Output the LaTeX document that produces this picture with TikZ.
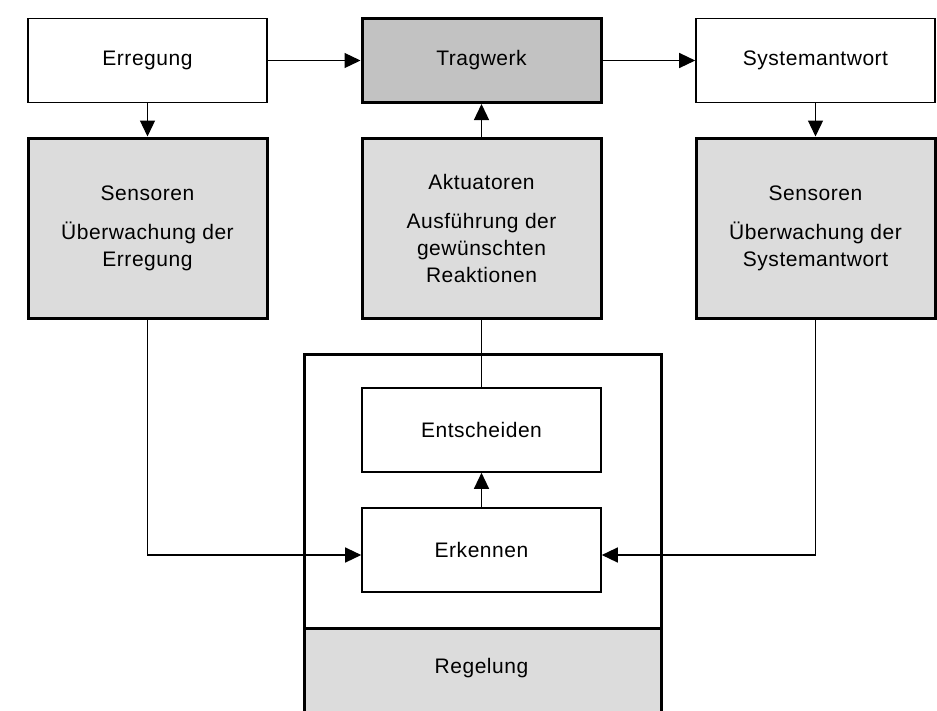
\documentclass[tikz,border=0pt]{standalone}
\usepackage{fontspec}
\setmainfont[LetterSpace=2.5]{Liberation Sans}
\usetikzlibrary{arrows.meta}
\definecolor{lightg}{RGB}{220,220,220}
\definecolor{darkg}{RGB}{194,194,194}
\begin{document}
\begin{tikzpicture}[x=1pt,y=-1pt,
  txt/.style={font=\fontsize{21}{27}\selectfont, align=center, text=black},
  wbox/.style={txt, draw, line width=1.6pt, fill=white, minimum width=239pt, minimum height=84pt, inner sep=0pt},
  gbox/.style={txt, draw, line width=3pt, fill=lightg, minimum width=239pt, minimum height=180pt, inner sep=0pt},
  tbox/.style={txt, draw, line width=3pt, fill=darkg, minimum width=239pt, minimum height=84pt, inner sep=0pt},
  arr/.style={line width=1.3pt, -{Triangle[length=16pt,width=15pt]}},
  plain/.style={line width=1.3pt}
]
\useasboundingbox (0,0) rectangle (937,710);
\fill[white] (0,0) rectangle (937,710);

% Regelung frame
\node[draw, line width=3pt, fill=white, minimum width=357pt, minimum height=362pt, inner sep=0pt, anchor=north west] (frame) at (303,353) {};
\node[txt, draw, line width=3pt, fill=lightg, minimum width=357pt, minimum height=90pt, inner sep=0pt, anchor=north west] (regel) at (303,627) {};
\node[txt] (regeltxt) at (481.5,668) {Regelung};

% top row
\node[wbox] (erreg) at (147.5,60.5) {Erregung};
\node[tbox] (trag) at (481.5,60.5) {Tragwerk};
\node[wbox] (sysant) at (815.5,60.5) {Systemantwort};

% second row
\node[gbox] (sensL) at (147.5,228) {Sensoren\\[12pt]Überwachung der\\Erregung};
\node[gbox] (akt) at (481.5,228) {Aktuatoren\\[12pt]Ausführung der\\gewünschten\\Reaktionen};
\node[gbox] (sensR) at (815.5,228) {Sensoren\\[12pt]Überwachung der\\Systemantwort};

% inner boxes
\node[wbox] (ents) at (481.5,430) {Entscheiden};
\node[wbox] (erk) at (481.5,550) {Erkennen};

% connectors
\draw[arr] (erreg) -- (trag);
\draw[arr] (trag) -- (sysant);
\draw[arr] (erreg) -- (sensL);
\draw[arr] (sysant) -- (sensR);
\draw[arr] (akt) -- (trag);
\draw[plain] (akt) -- (ents);
\draw[arr] (erk) -- (ents);
\draw[arr] (sensL.south) |- ([yshift=-5pt]erk.west);
\draw[arr] (sensR.south) |- ([yshift=-5pt]erk.east);
\end{tikzpicture}
\end{document}
